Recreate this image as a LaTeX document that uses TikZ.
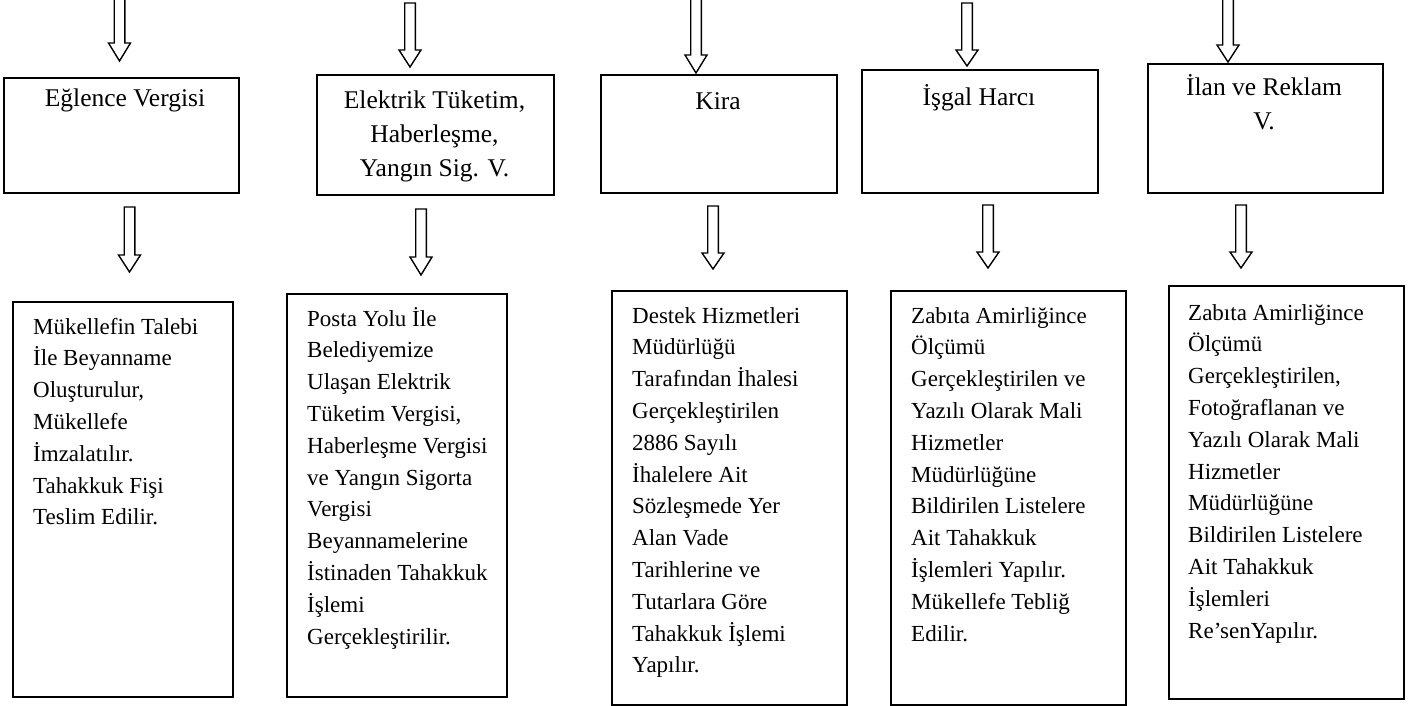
\documentclass[tikz,border=0pt]{standalone}
\usepackage{fontspec}
\setmainfont{Liberation Serif}
\newcommand\leftlines[1]{\vtop{\halign{##\hfil\cr#1\crcr}}}
\newcommand\centerlines[1]{\vtop{\halign{\hfil##\hfil\cr#1\crcr}}}
\newcommand\blockarrow[4]{\draw[blockarrow] (#1-5.3,#2) -- (#1+5.3,#2) -- (#1+5.3,#3) -- (#1+11,#3) -- (#1,#4) -- (#1-11,#3) -- (#1-5.3,#3) -- cycle;}
\tikzset{
  box/.style={draw=black, line width=1.8pt, inner sep=0pt, anchor=north west},
  blockarrow/.style={draw=black, line width=1.4pt, line join=miter, fill=white},
  toptext/.style={inner sep=0pt, anchor=base, font=\fontsize{25.5pt}{34pt}\selectfont},
  bottext/.style={inner sep=0pt, anchor=base west, font=\fontsize{23pt}{31.8pt}\selectfont},
}
\begin{document}
\begin{tikzpicture}[x=1pt,y=-1pt]
\useasboundingbox (0,0) rectangle (1419,706);
% top boxes
\node[box, minimum width=235pt, minimum height=115pt] (k1) at (3,77) {};
\node[box, minimum width=237pt, minimum height=120pt] (k2) at (316,74) {};
\node[box, minimum width=236pt, minimum height=118pt] (k3) at (600,74) {};
\node[box, minimum width=236pt, minimum height=123pt] (k4) at (861,69) {};
\node[box, minimum width=235pt, minimum height=129pt] (k5) at (1147,63) {};
\node[toptext] (tk1) at (125,107) {\centerlines{Eğlence Vergisi}};
\node[toptext] (tk2) at (434.5,109) {\centerlines{Elektrik Tüketim,\cr Haberleşme,\cr Yangın Sig. V.}};
\node[toptext] (tk3) at (718,110) {\centerlines{Kira}};
\node[toptext] (tk4) at (979,106) {\centerlines{İşgal Harcı}};
\node[toptext] (tk5) at (1264,96) {\centerlines{İlan ve Reklam\cr V.}};
% bottom boxes
\node[box, minimum width=220pt, minimum height=395pt] (b1) at (12,301) {};
\node[box, minimum width=220pt, minimum height=403pt] (b2) at (286,293) {};
\node[box, minimum width=235pt, minimum height=414pt] (b3) at (611,290) {};
\node[box, minimum width=235pt, minimum height=414pt] (b4) at (890,290) {};
\node[box, minimum width=235pt, minimum height=413pt] (b5) at (1168,285) {};
\node[bottext] (tb1) at (33,334) {\leftlines{Mükellefin Talebi\cr İle Beyanname\cr Oluşturulur,\cr Mükellefe\cr İmzalatılır.\cr Tahakkuk Fişi\cr Teslim Edilir.}};
\node[bottext] (tb2) at (307,326) {\leftlines{Posta Yolu İle\cr Belediyemize\cr Ulaşan Elektrik\cr Tüketim Vergisi,\cr Haberleşme Vergisi\cr ve Yangın Sigorta\cr Vergisi\cr Beyannamelerine\cr İstinaden Tahakkuk\cr İşlemi\cr Gerçekleştirilir.}};
\node[bottext] (tb3) at (632,323) {\leftlines{Destek Hizmetleri\cr Müdürlüğü\cr Tarafından İhalesi\cr Gerçekleştirilen\cr 2886 Sayılı\cr İhalelere Ait\cr Sözleşmede Yer\cr Alan Vade\cr Tarihlerine ve\cr Tutarlara Göre\cr Tahakkuk İşlemi\cr Yapılır.}};
\node[bottext] (tb4) at (911,323) {\leftlines{Zabıta Amirliğince\cr Ölçümü\cr Gerçekleştirilen ve\cr Yazılı Olarak Mali\cr Hizmetler\cr Müdürlüğüne\cr Bildirilen Listelere\cr Ait Tahakkuk\cr İşlemleri Yapılır.\cr Mükellefe Tebliğ\cr Edilir.}};
\node[bottext] (tb5) at (1188,320) {\leftlines{Zabıta Amirliğince\cr Ölçümü\cr Gerçekleştirilen,\cr Fotoğraflanan ve\cr Yazılı Olarak Mali\cr Hizmetler\cr Müdürlüğüne\cr Bildirilen Listelere\cr Ait Tahakkuk\cr İşlemleri\cr Re’senYapılır.}};
% top arrows
\blockarrow{119.5}{-6}{43}{61}
\blockarrow{410}{3}{50}{67}
\blockarrow{696}{-6}{55}{73}
\blockarrow{967}{3}{50}{66}
\blockarrow{1228}{-6}{45}{62}
% arrows between rows
\blockarrow{129.5}{207}{255}{272}
\blockarrow{421}{209}{257}{275}
\blockarrow{713}{206}{253}{269}
\blockarrow{988}{205}{252}{268}
\blockarrow{1241}{205}{252}{268}
\end{tikzpicture}
\end{document}
